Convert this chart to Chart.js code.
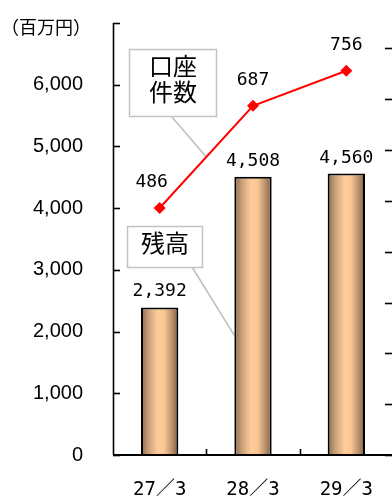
<!DOCTYPE html>
<html>
<head>
<meta charset="utf-8">
<script src="https://cdn.jsdelivr.net/npm/chart.js@4/dist/chart.umd.min.js"></script>
<style>
  html, body { margin: 0; padding: 0; background: #fff; overflow: hidden; }
  #wrap { position: relative; width: 399px; height: 498px; }
</style>
</head>
<body>
<div id="wrap"><canvas id="c"></canvas></div>
<script>
// Fiscal year-end labels
const categories = ['27／3', '28／3', '29／3'];
// 残高 (百万円) — bars on the left axis
const balances = [2392, 4508, 4560];
// 口座件数 — line on the right axis
const accountCounts = [486, 687, 756];
// Left axis tick values shown with labels
const leftTickValues = [0, 1000, 2000, 3000, 4000, 5000, 6000];
// Right axis tick marks (no labels)
const rightTickValues = [0, 100, 200, 300, 400, 500, 600, 700, 800];

const MONO = '"DejaVu Sans Mono", "Noto Sans CJK JP", monospace';
const CJK = '"Noto Sans CJK JP", sans-serif';

function barGradient(ctx) {
  const chart = ctx.chart;
  const xs = chart.scales.x;
  if (!xs || ctx.type !== 'data') return '#f6c48f';
  const cx = xs.getPixelForValue(ctx.dataIndex);
  const half = (xs.width / categories.length) * 0.4 / 2;
  if (!isFinite(cx) || !isFinite(half) || half <= 0) return '#f6c48f';
  const g = chart.ctx.createLinearGradient(cx - half, 0, cx + half, 0);
  g.addColorStop(0, '#86684c');
  g.addColorStop(0.2, '#c9a07a');
  g.addColorStop(0.45, '#ffcc99');
  g.addColorStop(0.62, '#f9c794');
  g.addColorStop(0.85, '#b48c68');
  g.addColorStop(1, '#7a5c42');
  return g;
}

// Axis lines and inward tick marks
const axesPlugin = {
  id: 'axesLines',
  afterDatasetsDraw(chart) {
    const { ctx, chartArea: a, scales } = chart;
    const y = scales.y, y1 = scales.y1, x = scales.x;
    ctx.save();
    ctx.strokeStyle = '#000';
    ctx.lineWidth = 1.6;
    ctx.beginPath();
    ctx.moveTo(a.left + 0.5, a.top);
    ctx.lineTo(a.left + 0.5, a.bottom);
    ctx.stroke();
    // left ticks
    [...leftTickValues, 7000].forEach(v => {
      const py = Math.round(y.getPixelForValue(v)) + 0.5;
      ctx.beginPath();
      ctx.moveTo(a.left, py);
      ctx.lineTo(a.left + 7, py);
      ctx.stroke();
    });
    // right ticks
    rightTickValues.forEach(v => {
      const py = Math.round(y1.getPixelForValue(v)) + 0.5;
      ctx.beginPath();
      ctx.moveTo(385, py);
      ctx.lineTo(392, py);
      ctx.stroke();
    });
    // category dividers
    for (let i = 1; i < categories.length; i++) {
      const px = Math.round((x.getPixelForValue(i - 1) + x.getPixelForValue(i)) / 2) + 0.5;
      ctx.beginPath();
      ctx.moveTo(px, a.bottom - 6);
      ctx.lineTo(px, a.bottom);
      ctx.stroke();
    }
    // base line
    ctx.lineWidth = 2;
    ctx.beginPath();
    ctx.moveTo(a.left, a.bottom);
    ctx.lineTo(a.right, a.bottom);
    ctx.stroke();
    ctx.restore();
  }
};

// Value labels above bars and points
const valueLabels = {
  id: 'valueLabels',
  afterDraw(chart) {
    const { ctx } = chart;
    ctx.save();
    ctx.fillStyle = '#000';
    ctx.font = '18px ' + MONO;
    ctx.textAlign = 'center';
    ctx.textBaseline = 'alphabetic';
    chart.getDatasetMeta(0).data.forEach((bar, i) => {
      ctx.fillText(balances[i].toLocaleString('en-US'), bar.x, bar.y - 11);
    });
    chart.getDatasetMeta(1).data.forEach((pt, i) => {
      const dx = i === 0 ? -8 : 0;
      ctx.fillText(accountCounts[i].toLocaleString('en-US'), pt.x + dx, pt.y - 21);
    });
    // unit
    ctx.font = '18px ' + CJK;
    ctx.textAlign = 'left';
    ctx.fillText('（百万円）', 1, 34);
    ctx.restore();
  }
};

// Series callouts with leader lines
const callouts = {
  id: 'callouts',
  beforeDatasetsDraw(chart) {
    const { ctx, scales } = chart;
    const m1 = chart.getDatasetMeta(1).data;
    const b = chart.getDatasetMeta(0).data[1];
    ctx.save();
    ctx.strokeStyle = '#bdbdbd';
    ctx.lineWidth = 1.5;
    ctx.beginPath();
    ctx.moveTo(172, 117);
    ctx.lineTo((m1[0].x + m1[1].x) / 2, (m1[0].y + m1[1].y) / 2);
    ctx.stroke();
    ctx.beginPath();
    ctx.moveTo(192, 267);
    ctx.lineTo(b.x - b.width / 2, scales.y.getPixelForValue(balances[1] * 0.43));
    ctx.stroke();
    ctx.restore();
  },
  afterDraw(chart) {
    const { ctx } = chart;
    ctx.save();
    const box = (x, y, w, h) => {
      ctx.fillStyle = '#fff';
      ctx.fillRect(x, y, w, h);
      ctx.strokeStyle = '#c3c3c3';
      ctx.lineWidth = 1.5;
      ctx.strokeRect(x, y, w, h);
    };
    box(129.5, 49.5, 87, 67);
    box(127.5, 226.5, 75, 41);
    ctx.fillStyle = '#000';
    ctx.font = '24px ' + CJK;
    ctx.textAlign = 'center';
    ctx.textBaseline = 'middle';
    ctx.fillText('口座', 173, 66);
    ctx.fillText('件数', 173, 92);
    ctx.fillText('残高', 165, 243);
    ctx.restore();
  }
};

new Chart(document.getElementById('c'), {
  data: {
    labels: categories,
    datasets: [
      {
        type: 'bar',
        label: '残高',
        data: balances,
        yAxisID: 'y',
        backgroundColor: barGradient,
        borderColor: '#000',
        borderWidth: 2,
        barPercentage: 0.4,
        categoryPercentage: 1,
        order: 2
      },
      {
        type: 'line',
        label: '口座件数',
        data: accountCounts,
        yAxisID: 'y1',
        borderColor: '#ff0000',
        backgroundColor: '#ff0000',
        borderWidth: 2,
        pointStyle: 'rectRot',
        pointRadius: 6,
        pointBorderWidth: 0,
        tension: 0,
        order: 1
      }
    ]
  },
  options: {
    responsive: true,
    maintainAspectRatio: false,
    animation: false,
    layout: { padding: { top: 23, right: 0, left: 0, bottom: 0 } },
    plugins: { legend: { display: false }, tooltip: { enabled: false } },
    scales: {
      x: {
        grid: { display: false },
        border: { display: false },
        ticks: { color: '#000', font: { family: MONO, size: 19 }, padding: 16 },
        afterFit(s) { s.height = 43; s.paddingLeft = 0; s.paddingRight = 0; }
      },
      y: {
        position: 'left',
        min: 0, max: 7000,
        grid: { display: false },
        border: { display: false },
        ticks: {
          stepSize: 1000,
          color: '#000',
          padding: 22,
          font: { family: '"Liberation Sans", Arial, sans-serif', size: 20 },
          callback: v => (leftTickValues.includes(v) ? v.toLocaleString('en-US') : '')
        },
        afterFit(s) { s.width = 113; s.paddingTop = 0; s.paddingBottom = 0; }
      },
      y1: {
        position: 'right',
        display: false,
        min: 0, max: 850
      }
    }
  },
  plugins: [axesPlugin, valueLabels, callouts]
});
</script>
</body>
</html>
